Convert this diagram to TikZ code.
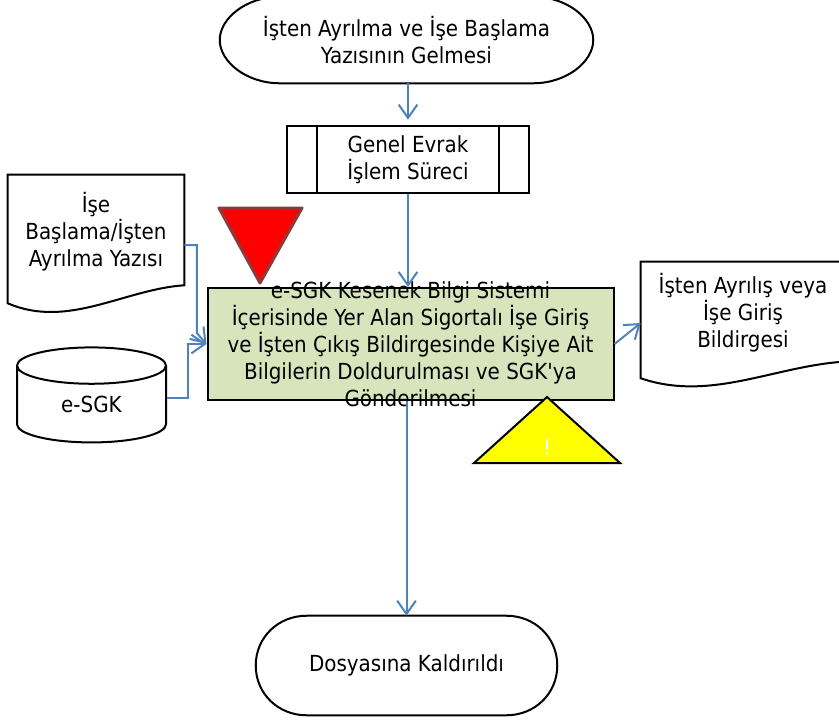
\documentclass[tikz,border=0pt]{standalone}
\usepackage{fontspec}
\setmainfont{DejaVu Sans Condensed}
\usetikzlibrary{arrows.meta,shapes.geometric}
\definecolor{flowblue}{HTML}{4F81BD}
\definecolor{boxgreen}{HTML}{D7E4BC}
\definecolor{redborder}{HTML}{8C3A3A}
\definecolor{warnyellow}{RGB}{255,255,0}
\definecolor{warnred}{RGB}{255,0,0}
\newcommand{\terminalpath}[2]{%
  \draw[line width=1.5pt] ([xshift=#2]#1.north west) -- ([xshift=-#2]#1.north east)
    .. controls ([xshift=-0.45*#2]#1.north east) and ([yshift=-16pt]#1.north east) .. (#1.east)
    .. controls ([yshift=16pt]#1.south east) and ([xshift=-0.45*#2]#1.south east) .. ([xshift=-#2]#1.south east)
    -- ([xshift=#2]#1.south west)
    .. controls ([xshift=0.45*#2]#1.south west) and ([yshift=16pt]#1.south west) .. (#1.west)
    .. controls ([yshift=-16pt]#1.north west) and ([xshift=0.45*#2]#1.north west) .. cycle;}
\tikzset{
  label text/.style={inner sep=0pt,align=center,font=\fontsize{16.6}{20.25}\selectfont},
  box/.style={label text,draw,line width=1.5pt},
  flow/.style={draw=flowblue,line width=1.5pt,-{Straight Barb[length=10pt,width=14pt,line width=1.5pt]}},
}
\begin{document}
\begin{tikzpicture}[x=0.75pt,y=-0.75pt]
  \useasboundingbox (0,0) rectangle (839,722);
  \clip (0,0) rectangle (839,722);

  \node[label text,minimum width=279.75pt,minimum height=64.5pt] (start) at (406.5,40) {İşten Ayrılma ve İşe Başlama\\Yazısının Gelmesi};
  \terminalpath{start}{45pt}
  \node[box,minimum width=181.5pt,minimum height=50.25pt] (evrak) at (408,159.5) {Genel Evrak\\İşlem Süreci};
  \draw[line width=1.5pt] ([xshift=23.25pt]evrak.north west) -- ([xshift=23.25pt]evrak.south west);
  \draw[line width=1.5pt] ([xshift=-23.25pt]evrak.north east) -- ([xshift=-23.25pt]evrak.south east);

  \node[box,fill=boxgreen,minimum width=304.5pt,minimum height=84pt] (main) at (410.5,344) {};
  \node[label text] (maintext) at (main.center) {e-SGK Kesenek Bilgi Sistemi\\İçerisinde Yer Alan Sigortalı İşe Giriş\\ve İşten Çıkış Bildirgesinde Kişiye Ait\\Bilgilerin Doldurulması ve SGK\textquotesingle ya\\Gönderilmesi};

  \node[label text,minimum width=132pt,minimum height=85.5pt] (doca) at (96,232) {İşe\\Başlama/İşten\\Ayrılma Yazısı};
  \draw[line width=1.5pt] (doca.north west) -- ([yshift=-10.5pt]doca.south west) .. controls ++(60,26) and ++(-60,4) .. ([yshift=3pt]doca.south east) -- (doca.north east) -- cycle;

  \node[label text,minimum width=153pt,minimum height=76.5pt] (docb) at (743,313) {İşten Ayrılış veya\\İşe Giriş\\Bildirgesi};
  \draw[line width=1.5pt] (docb.north west) -- ([yshift=-10.5pt]docb.south west) .. controls ++(70,24) and ++(-70,4) .. ([yshift=2pt]docb.south east) -- (docb.north east) -- cycle;

  \node[box,cylinder,shape border rotate=90,aspect=0.6,minimum width=111.75pt,minimum height=71.25pt] (esgk) at (91.5,404.5) {e-SGK};

  \node[label text,minimum width=225.75pt,minimum height=74.25pt] (finish) at (406.5,665.5) {Dosyasına Kaldırıldı};
  \terminalpath{finish}{38pt}

  % uyari isaretleri
  \draw[draw=redborder,fill=warnred,line width=2.25pt,line join=round] (219,208) -- (302,208) -- (260,283) -- cycle;
  \draw[fill=warnyellow,line width=1.5pt] (547,397) -- (620,463) -- (474,463) -- cycle;
  \node[label text,text=white] (warn) at (547,447) {!};

  % akis
  \draw[flow,shorten >=4pt] (start.south -| evrak.north) -- (evrak.north);
  \draw[flow] (evrak.south) -- (main.north -| evrak.south);
  \draw[flow] ([yshift=-9.75pt]doca.east) -- ++(12.5,0) -- ++(0,88) -- (main.west);
  \draw[flow] ([yshift=5pt]esgk.east) -- ++(21,0) |- (main.west);
  \draw[flow] (main.east) -- ([yshift=-7.5pt]docb.west);
  \draw[flow] (main.south -| finish.north) -- (finish.north);
\end{tikzpicture}
\end{document}
